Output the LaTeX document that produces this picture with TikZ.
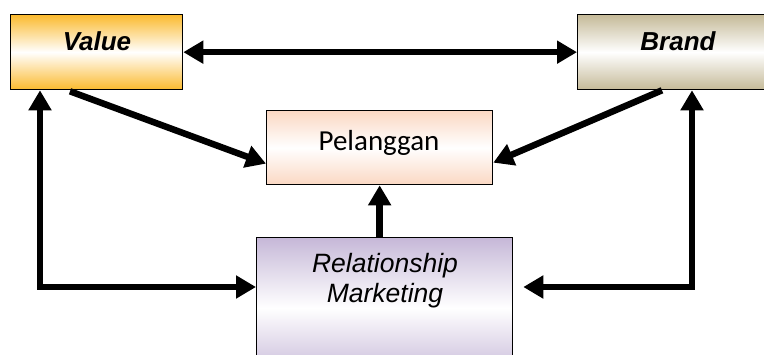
\documentclass[tikz,border=0pt]{standalone}
\usepackage{fontspec}
\newfontfamily\arialf{Liberation Sans}
\newfontfamily\calibrif{Carlito}
\usetikzlibrary{arrows.meta,calc}
\definecolor{vorange}{HTML}{FBBA2E}
\definecolor{btan}{HTML}{C5BA98}
\definecolor{ppeach}{HTML}{FBD8C3}
\definecolor{rlav}{HTML}{C6B8D8}
\tikzset{
  box/.style={draw=black, line width=1.3pt, inner sep=0pt, anchor=north west},
  lbl/.style={anchor=base, inner sep=0pt},
  arr/.style={line width=6.5pt, -{Triangle[length=20pt,width=22pt]}},
  dbl/.style={line width=6.5pt, {Triangle[length=20pt,width=22pt]}-{Triangle[length=20pt,width=22pt]}, line join=miter},
}
\begin{document}
\begin{tikzpicture}[x=1pt,y=-1pt]
\clip (0,0) rectangle (764,354);
\fill[white] (0,0) rectangle (764,354);
% boxes
\node[box, minimum width=172pt, minimum height=75pt, top color=vorange, bottom color=vorange, middle color=white] (value) at (10,14) {};
\node[box, minimum width=202pt, minimum height=75pt, top color=btan, bottom color=btan, middle color=white] (brand) at (577,14) {};
\node[box, minimum width=226pt, minimum height=74pt, top color=ppeach, bottom color=ppeach, middle color=white] (pel) at (266,110) {};
\node[box, minimum width=256pt, minimum height=140pt, top color=rlav, bottom color=rlav, middle color=white] (rm) at (256,237) {};
% labels
\node[lbl, font=\arialf\bfseries\itshape\fontsize{26}{30}\selectfont] (valuet) at (97,50) {Value};
\node[lbl, font=\arialf\bfseries\itshape\fontsize{26}{30}\selectfont] (brandt) at (678,50) {Brand};
\node[lbl, font=\calibrif\fontsize{29}{34}\selectfont] (pelt) at (379,150) {Pelanggan};
\node[lbl, font=\arialf\itshape\fontsize{26.5}{30}\selectfont] (rmt1) at (385,272) {Relationship};
\node[lbl, font=\arialf\itshape\fontsize{26.5}{30}\selectfont] (rmt2) at (385,302) {Marketing};
% connectors
\coordinate (L) at (40,287);
\coordinate (R) at (692,287);
\draw[dbl] (value.east) -- (brand.west);
\draw[arr] ($(value.south west)+(60,1)$) -- ($(pel.west)+(0,16)$);
\draw[arr] ($(brand.south west)+(85,0)$) -- ($(pel.east)+(0,15)$);
\draw[arr] (pel.south |- rm.north) -- (pel.south);
\draw[dbl] (value.south -| L) -- (L) -- (rm.west |- L);
\draw[dbl, shorten >=10pt] (brand.south -| R) -- (R) -- (rm.east |- R);
\end{tikzpicture}
\end{document}
